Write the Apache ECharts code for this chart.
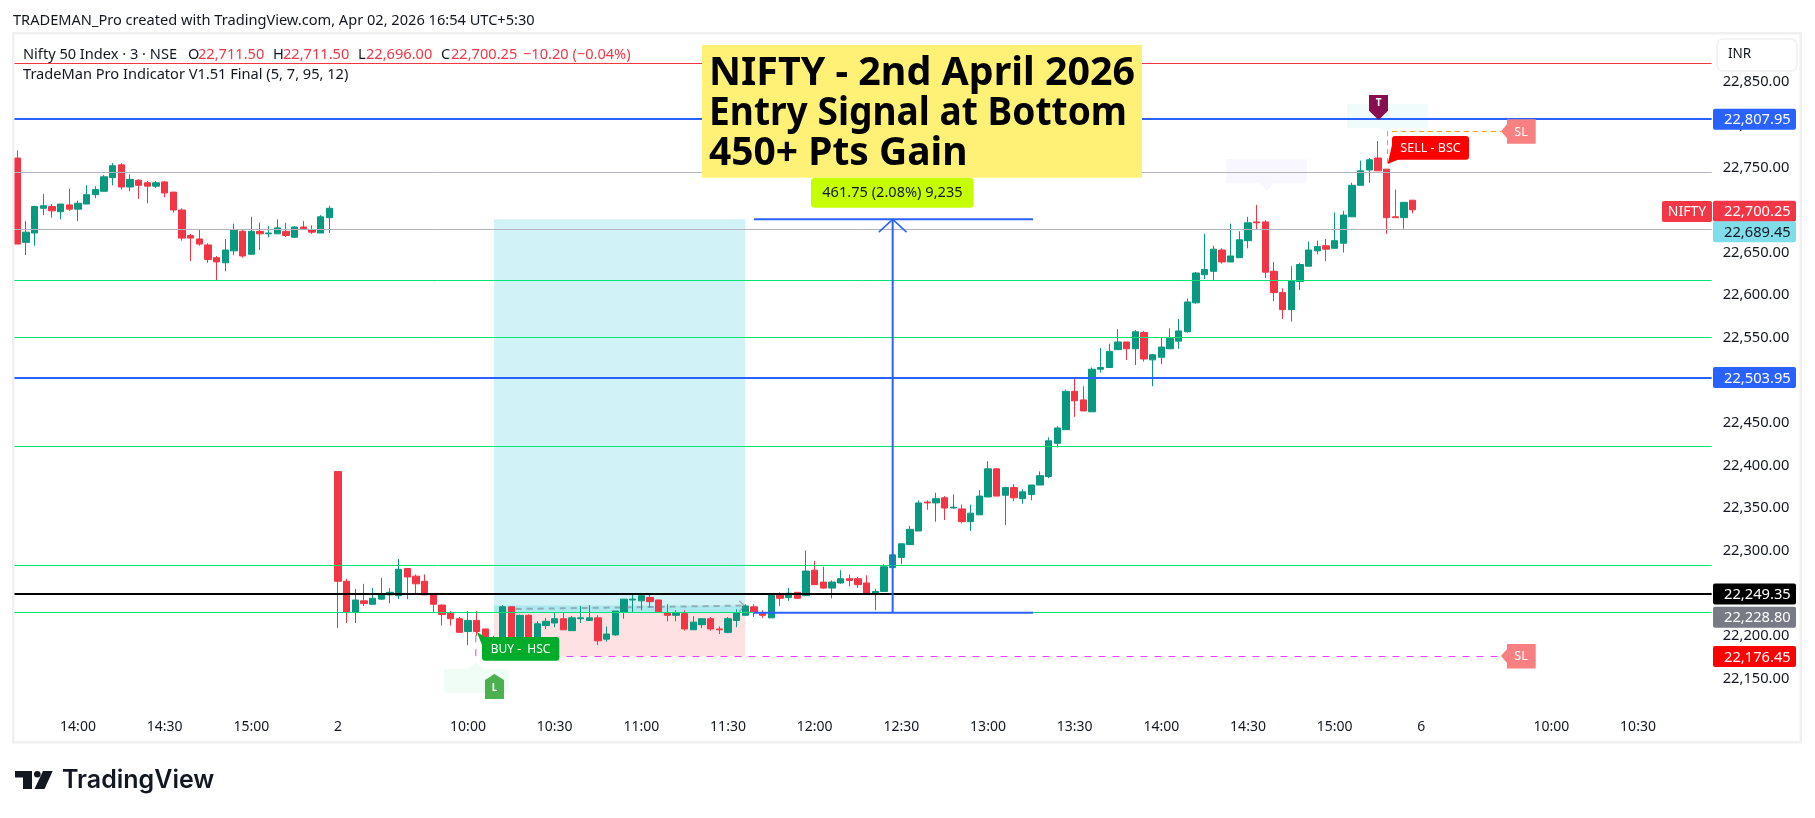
<!DOCTYPE html>
<html>
<head>
<meta charset="utf-8">
<title>NIFTY - 2nd April 2026</title>
<style>html,body{margin:0;padding:0;background:#fff}#chart{width:1815px;height:818px}</style>
<script src="https://cdn.jsdelivr.net/npm/echarts@6/dist/echarts.min.js"></script>
</head>
<body>
<div id="chart"></div>
<script>
// Candles: [open, close, low, high]
const candlesPrevDay = [
[22761,22660,22660,22770],[22662,22674,22647,22687],[22673,22704,22658,22705],[22702,22705,22694,22719],
[22704,22699,22691,22707],[22698,22707,22689,22707],[22706,22701,22699,22725],[22701,22708,22687,22711],
[22707,22718,22707,22729],[22718,22724,22714,22728],[22722,22739,22722,22741],[22738,22752,22729,22755],
[22753,22727,22724,22755],[22727,22736,22722,22742],[22735,22729,22713,22736],[22732,22728,22708,22734],
[22728,22732,22726,22734],[22733,22720,22715,22734],[22721,22700,22697,22721],[22700,22667,22664,22702],
[22670,22667,22640,22672],[22666,22660,22658,22677],[22659,22642,22638,22661],[22644,22639,22617,22646],
[22638,22653,22628,22666],[22652,22677,22647,22684],[22675,22646,22644,22677],[22648,22675,22648,22692],
[22675,22672,22653,22685],[22672,22673,22668,22681],[22672,22679,22672,22689],[22675,22670,22668,22685],
[22668,22680,22667,22681],[22680,22678,22678,22687],[22677,22674,22672,22682],[22673,22692,22673,22694],
[22691,22702,22673,22705]];
const candlesMorning = [
[22393,22264,22209,22393],[22264,22228,22215,22267],[22228,22242,22215,22255],[22241,22238,22235,22261],
[22237,22244,22237,22256],[22243,22249,22242,22268],[22248,22251,22238,22256],[22247,22278,22243,22290],
[22279,22269,22243,22279],[22270,22261,22249,22272],[22264,22248,22248,22272],[22249,22237,22228,22250],
[22236,22225,22212,22237],[22227,22220,22212,22229],[22220,22204,22204,22222],[22205,22218,22189,22229],
[22218,22205,22200,22229],[22208,22193,22185,22208],[22187,22197,22180,22200],[22187,22234,22182,22236],
[22234,22195,22188,22234],[22195,22224,22190,22225],[22224,22197,22192,22225],[22197,22214,22193,22217],
[22212,22217,22208,22221],[22215,22220,22210,22227],[22220,22207,22207,22227],[22206,22221,22206,22223],
[22220,22221,22215,22235],[22218,22221,22218,22236],[22221,22194,22189,22224],[22196,22202,22193,22211],
[22201,22229,22200,22229],[22228,22243,22220,22243],[22242,22243,22228,22249],[22241,22247,22230,22248],
[22245,22240,22233,22249],[22242,22228,22228,22242],[22227,22224,22217,22237],[22224,22227,22217,22230],
[22226,22208,22206,22230],[22207,22216,22207,22223],[22213,22220,22209,22220],[22220,22208,22206,22222],
[22208,22207,22202,22211],[22204,22220,22203,22222],[22218,22227,22210,22231],[22224,22235,22224,22237],
[22234,22228,22222,22237],[22226,22224,22221,22230],[22221,22248,22221,22248],[22248,22244,22235,22251],
[22245,22250,22241,22256],[22251,22244,22243,22251],[22247,22276,22247,22300],[22277,22260,22260,22288],
[22263,22256,22255,22281],[22256,22263,22244,22265],[22262,22267,22261,22277],[22267,22265,22258,22272],
[22267,22260,22256,22269],[22262,22250,22250,22271],[22249,22252,22230,22255],[22252,22281,22252,22284],
[22280,22295,22280,22295]];
const candlesAfternoon = [
[22292,22308,22284,22308],[22307,22325,22307,22329],[22323,22356,22323,22359],[22357,22356,22348,22359],
[22356,22361,22334,22368],[22362,22350,22336,22364],[22350,22351,22349,22366],[22349,22334,22332,22354],
[22334,22344,22323,22354],[22342,22364,22342,22371],[22363,22396,22363,22405],[22396,22364,22364,22397],
[22365,22374,22330,22375],[22374,22362,22358,22378],[22361,22369,22355,22372],[22366,22377,22359,22377],
[22377,22388,22377,22393],[22387,22429,22385,22433],[22426,22444,22421,22446],[22442,22487,22442,22489],
[22487,22476,22457,22502],[22477,22464,22464,22493],[22463,22513,22463,22515],[22513,22515,22509,22538],
[22515,22534,22515,22543],[22536,22545,22536,22560],[22545,22537,22524,22545],[22537,22557,22518,22559],
[22556,22525,22522,22558],[22524,22530,22493,22531],[22527,22539,22519,22550],[22537,22549,22537,22561],
[22546,22558,22537,22572],[22557,22592,22556,22596],[22591,22626,22590,22627],[22624,22630,22619,22672],
[22628,22654,22618,22658],[22653,22639,22637,22655],[22639,22646,22639,22684],[22644,22665,22644,22675],
[22664,22685,22655,22692],[22686,22685,22677,22706],[22686,22627,22620,22688],[22628,22603,22593,22639],
[22603,22583,22572,22608],[22583,22617,22569,22634],[22616,22636,22606,22638],[22634,22653,22634,22663],
[22652,22657,22648,22664],[22658,22654,22640,22666],[22655,22664,22655,22697],[22661,22694,22650,22699],
[22692,22729,22692,22732],[22729,22746,22729,22758],[22747,22759,22732,22761],[22761,22746,22746,22781],
[22748,22691,22672,22748],[22692,22691,22691,22724],[22691,22709,22678,22709],[22711.5,22700.25,22696,22711.5]];

const slotCount = 196;
const timeTickSlots = [7,17,27,37,52,62,72,82,92,102,112,122,132,142,152,162,177,187];
const timeTickLabels = ['14:00','14:30','15:00','2','10:00','10:30','11:00','11:30','12:00','12:30','13:00','13:30','14:00','14:30','15:00','6','10:00','10:30'];

const greenLevels = [22617.4,22550.5,22422.5,22282.7,22227.5];
const greyLevels = [22744.3,22677.4];
const blueLevels = [22807,22503.5];
const redLevel = 22872;
const blackLevel = 22249.35;

const priceTagValues = [22807.95,22700.25,22689.45,22503.95,22249.35,22228.80,22176.45];
const priceTagTexts = ['22,807.95','22,700.25','22,689.45','22,503.95','22,249.35','22,228.80','22,176.45'];
const priceTagColors = ['#2962ff','#f23645','#80deea','#2962ff','#000000','#787b86','#ff0000'];
const priceTagInk = ['#ffffff','#ffffff','#131722','#ffffff','#ffffff','#ffffff','#ffffff'];
const priceTagShift = [1.2,1.5,12.7,0.6,0.3,6,0.6];

// Measure tool: slots and prices
const measureLow = 22227, measureHigh = 22689;
const measureSlots = [85,101,117.2];
const zoneSlots = [55,84];
const zoneEntryBandTop = 22235.4, zoneEntry = 22227.5, zoneStop = 22176;
const stopPrice = 22175.6, stopSlots = [52.9,171.2];
const sellStopPrice = 22792.2, sellEntryPrice = 22755, sellSlots = [158.1,171.2];
const tradePath = [[57.5,22231.4],[83.9,22235.5]];

const FRAME = '#f0f0f0';
const SANS = '"Noto Sans", sans-serif';
const G = [];
function T(x,y,text,size,fill,o){G.push(Object.assign({type:'text',z:60,silent:true,style:{x:x,y:y,text:text,fill:fill,font:(o&&o.w||'normal')+' '+size+'px '+(o&&o.fam||SANS),align:o&&o.al||'left',verticalAlign:'middle'}},o&&o.el||{}));}
function R(x,y,w,h,fill,r,z,stroke){G.push({type:'rect',z:z||50,silent:true,shape:{x:x,y:y,width:w,height:h,r:r||0},style:{fill:fill,stroke:stroke||null,lineWidth:stroke?1.5:0}});}
function P(pts,fill,z){G.push({type:'polygon',z:z||50,silent:true,shape:{points:pts},style:{fill:fill}});}

// Pane frame
R(12,32,1790,2.5,FRAME); R(12,741,1790,2.5,FRAME); R(12,32,2.5,711,FRAME); R(1799.5,32,2.5,711,FRAME);
// Header and legend
T(13,20.5,'TRADEMAN_Pro created with TradingView.com, Apr 02, 2026 16:54 UTC+5:30',14.6,'#131722');
T(23,54.5,'Nifty 50 Index · 3 · NSE',14.6,'#131722');
[['O',188],['H',273],['L',358],['C',441]].forEach(a=>T(a[1],54.5,a[0],14.6,'#131722'));
[['22,711.50',198],['22,711.50',283],['22,696.00',366],['22,700.25',451],['−10.20 (−0.04%)',523]].forEach(a=>T(a[1],54.5,a[0],14.6,'#f23645'));
T(23,75,'TradeMan Pro Indicator V1.51 Final (5, 7, 95, 12)',14.6,'#131722');
// INR box
R(1717,39,80,32,'#ffffff',6,50,'#f0f0f0'); T(1728,54.5,'INR',13.5,'#131722');
// NIFTY tag
R(1662,201,50,21,'#f23645',2); T(1687,212,'NIFTY',14,'#ffffff',{al:'center'});
// Title box
R(702,45,440,132.7,'#fff176');
T(709,74,'NIFTY - 2nd April 2026',40,'#000000',{w:'bold',el:{originX:709,scaleX:0.984}});
T(709,114,'Entry Signal at Bottom',40,'#000000',{w:'bold',el:{originX:709,scaleX:0.928}});
T(709,154,'450+ Pts Gain',40,'#000000',{w:'bold',el:{originX:709,scaleX:0.974}});
// Gain label
R(811,177.7,162.7,30,'#c6ff00',4); T(892.4,193,'461.75 (2.08%) 9,235',14.6,'#131722',{al:'center'});
// BUY label
P([[476.7,631.7],[490,640],[484,650]],'#00ad2a'); R(482,637,77.3,23.7,'#00ad2a',3);
T(520.6,649.5,'BUY -  HSC',12,'#ffffff',{al:'center'});
// L pin
P([[444,669],[468,669],[476,662],[484,669],[508.7,669],[508.7,693.3],[444,693.3]],'#f0fdf6',2);
P([[494.5,674],[504,680],[504,699],[485,699],[485,680]],'#4caf50'); T(494.5,688,'L',10,'#ffffff',{al:'center',w:'bold'});
// T pin
P([[1347,104],[1428,104],[1428,127.7],[1392,127.7],[1386.7,131.7],[1381,127.7],[1347,127.7]],'#f0fbfc',2);
P([[1369,95],[1388,95],[1388,110.7],[1378.6,120],[1369,110.7]],'#880e4f'); T(1378.6,103,'T',10,'#ffffff',{al:'center',w:'bold'});
// faint purple note
P([[1226,159],[1306.7,159],[1306.7,183.3],[1274,183.3],[1266.7,190.7],[1259,183.3],[1226,183.3]],'#f8f7ff',2);
// SELL label
P([[1387.7,164],[1392,145],[1402,158]],'#ff0000'); R(1392,136,77,23.7,'#ff0000',3);
T(1430.5,148.5,'SELL - BSC',12.5,'#ffffff',{al:'center'});
// SL labels
[[119.3],[644]].forEach(a=>{const t=a[0];P([[1501,t+12],[1507,t+5],[1507,t],[1535.7,t],[1535.7,t+24.4],[1507,t+24.4],[1507,t+19]],'#f98080');T(1521,t+12.7,'SL',12.5,'#ffffff',{al:'center'});});
// Logo
P([[15,771],[32,771],[32,789],[23,789],[23,777.5],[15,777.5]],'#131722');
G.push({type:'circle',z:50,silent:true,shape:{cx:37.3,cy:774.3,r:3.3},style:{fill:'#131722'}});
P([[43,771],[52.7,771],[44.5,789],[34.5,789]],'#131722');
T(62,780,'TradingView',25,'#131722',{w:'600',fam:'Inter, sans-serif'});

const categories = Array.from({length:slotCount},(_, i)=>{const k=timeTickSlots.indexOf(i);return k>=0?timeTickLabels[k]:'';});
const candles = candlesPrevDay.concat(candlesMorning,candlesAfternoon);

function hline(v,color,width){return {yAxis:v,lineStyle:{color:color,width:width,type:'solid'}};}
function levelSeries(z,lines){return {type:'line',z:z,data:[],silent:true,animation:false,xAxisIndex:0,yAxisIndex:0,
  markLine:{silent:true,symbol:['none','none'],animation:false,label:{show:false},data:lines}};}
function pathSeries(z,pts,color,width,type){return {type:'line',z:z,xAxisIndex:1,yAxisIndex:0,data:pts,showSymbol:false,symbol:'none',silent:true,animation:false,clip:false,
  lineStyle:{color:color,width:width,type:type||'solid',cap:'butt'}};}
function zoneSeries(z,slots,top,bottom,color){return {type:'custom',z:z,xAxisIndex:1,yAxisIndex:0,silent:true,animation:false,clip:false,
  data:[[slots[0],top,slots[1],bottom]],
  renderItem:function(p,api){const a=api.coord([api.value(0),api.value(1)]),b=api.coord([api.value(2),api.value(3)]);
    return {type:'rect',shape:{x:a[0],y:a[1],width:b[0]-a[0],height:b[1]-a[1]},style:{fill:color}};}};}

const series = [
  levelSeries(1,[hline(blackLevel,'#000000',2)]),
  zoneSeries(2,zoneSlots,measureHigh,zoneEntry,'rgba(0,188,212,0.18)'),
  zoneSeries(2,zoneSlots,zoneEntryBandTop,zoneEntry,'rgba(0,188,212,0.18)'),
  zoneSeries(2,zoneSlots,zoneEntry,zoneStop,'rgba(242,54,69,0.15)'),
  {type:'candlestick',z:3,xAxisIndex:0,yAxisIndex:0,data:candles,barWidth:7,animation:false,silent:true,
   itemStyle:{color:'#089981',color0:'#f23645',borderColor:'#089981',borderColor0:'#f23645',borderWidth:1}},
  levelSeries(4,greenLevels.map(v=>hline(v,'#00e676',1)).concat(greyLevels.map(v=>hline(v,'#b2b5be',1)),blueLevels.map(v=>hline(v,'#2962ff',2)),[hline(redLevel,'#f23645',1)])),
  pathSeries(5,[[stopSlots[0],stopPrice+25],[stopSlots[0],stopPrice],[stopSlots[1],stopPrice]],'#e040fb',1,[7,7]),
  pathSeries(5,tradePath,'rgba(120,123,134,0.55)',2,[6,5]),
  pathSeries(5,[[83.3,22241],[83.9,22235.5],[83.3,22228]],'rgba(120,123,134,0.55)',1.5),
  pathSeries(5,[[sellSlots[0],sellEntryPrice],[sellSlots[0],sellStopPrice],[sellSlots[1],sellStopPrice]],'#ff9800',1,[5,4]),
  pathSeries(6,[[measureSlots[0],measureLow],[measureSlots[2],measureLow]],'#2962ff',2),
  pathSeries(6,[[measureSlots[0],measureHigh],[measureSlots[2],measureHigh]],'#2962ff',2),
  pathSeries(6,[[measureSlots[1],measureLow],[measureSlots[1],measureHigh]],'#2962ff',2),
  pathSeries(6,[[measureSlots[1]-1.6,measureHigh-15],[measureSlots[1],measureHigh],[measureSlots[1]+1.6,measureHigh-15]],'#2962ff',1.5),
  {type:'custom',z:10,xAxisIndex:1,yAxisIndex:0,silent:true,animation:false,clip:false,
   data:priceTagValues.map((v,i)=>[0,v,i]),
   renderItem:function(p,api){const i=api.value(2),y=api.coord([0,api.value(1)])[1]+priceTagShift[i];
     return {type:'group',children:[
       {type:'rect',shape:{x:1713,y:y-10.5,width:83,height:21,r:2},style:{fill:priceTagColors[i]}},
       {type:'text',style:{x:1724,y:y+1,text:priceTagTexts[i],fill:priceTagInk[i],font:'14.7px '+SANS,align:'left',verticalAlign:'middle'}}
     ]};}}
];

const chart = echarts.init(document.getElementById('chart'),null,{renderer:'canvas'});
chart.setOption({
  animation:false,
  backgroundColor:'#ffffff',
  grid:{left:13,width:1698.67,top:39.7,height:681.2,containLabel:false},
  xAxis:[
    {type:'category',data:categories,boundaryGap:true,axisLine:{show:false},axisTick:{show:false},splitLine:{show:false},
     axisLabel:{interval:function(i,v){return v!=='';},margin:-1,color:'#131722',fontSize:14,fontFamily:SANS,hideOverlap:false,verticalAlign:'top'}},
    {type:'value',min:-0.5,max:slotCount-0.5,show:false,position:'top'}
  ],
  yAxis:[{type:'value',position:'right',min:22100,max:22900,interval:50,axisLine:{show:false},axisTick:{show:false},splitLine:{show:false},
     axisLabel:{showMinLabel:false,showMaxLabel:false,margin:11,padding:[2,0,0,0],color:'#131722',fontSize:14.7,fontFamily:SANS,hideOverlap:false,
       formatter:function(v){return v.toLocaleString('en-US',{minimumFractionDigits:2,maximumFractionDigits:2});}}}],
  tooltip:{show:false},
  legend:{show:false},
  series:series,
  graphic:{elements:G}
});
</script>
</body>
</html>
